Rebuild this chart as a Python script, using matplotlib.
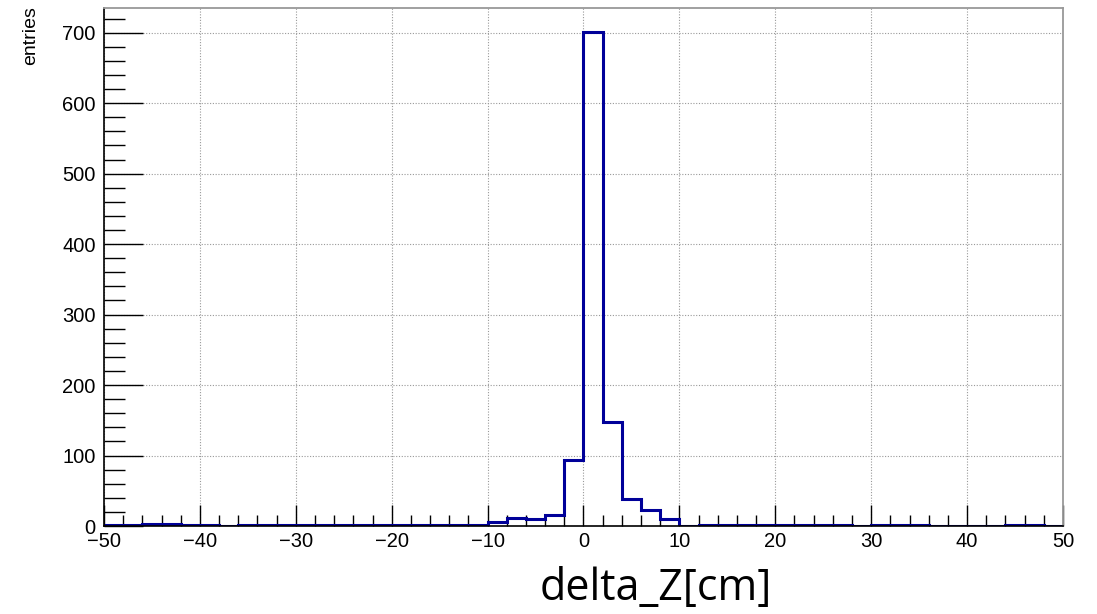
import numpy as np
import matplotlib.pyplot as plt
from matplotlib.ticker import MultipleLocator

# bin edges: -50 .. 50 in steps of 2
edges = np.arange(-50, 52, 2)

# entries per bin (left to right)
counts = [2, 2, 3, 3, 1, 2, 0, 1, 2, 2,
          2, 2, 2, 2, 2, 2, 2, 2, 1, 1,
          5, 12, 10, 16, 93, 701, 147, 39, 23, 10,
          0, 1, 2, 2, 2, 2, 1, 1, 1, 0,
          1, 1, 1, 0, 0, 0, 0, 1, 1, 0]

plt.rcParams['font.family'] = ['Liberation Sans', 'DejaVu Sans']

fig = plt.figure(figsize=(10.97, 6.14), dpi=100)
ax = fig.add_axes([0.0948, 0.1433, 0.969 - 0.0948, 0.987 - 0.1433])

ax.stairs(counts, edges, color='#000099', lw=2.2, baseline=None)

ax.set_xlim(-50, 50)
ax.set_ylim(0, 735)

ax.xaxis.set_major_locator(MultipleLocator(10))
ax.xaxis.set_minor_locator(MultipleLocator(2))
ax.yaxis.set_major_locator(MultipleLocator(100))
ax.yaxis.set_minor_locator(MultipleLocator(20))

ax.grid(True, which='major', color='#999999', ls=(0, (1, 1.5)), lw=0.8)
ax.set_axisbelow(True)

ax.tick_params(axis='both', which='both', direction='in', labelsize=14.5, colors='black')
ax.tick_params(axis='x', which='major', length=15, width=1, top=False, pad=4)
ax.tick_params(axis='x', which='minor', length=8, width=1, top=False)
ax.tick_params(axis='y', which='major', length=28, width=1, right=False, pad=6)
ax.tick_params(axis='y', which='minor', length=15, width=1, right=False)

for side in ['top', 'right']:
    ax.spines[side].set_color('#999999')
    ax.spines[side].set_linewidth(1.3)
for side in ['left', 'bottom']:
    ax.spines[side].set_color('black')
    ax.spines[side].set_linewidth(1.2)

fig.text(0.028, 0.99, 'entries', rotation=90, ha='center', va='top', fontsize=14)
fig.text(0.598, 0.005, 'delta_Z[cm]', ha='center', va='bottom', fontsize=31,
         family=['Open Sans', 'DejaVu Sans'])

fig.savefig('out.png', dpi=100)
